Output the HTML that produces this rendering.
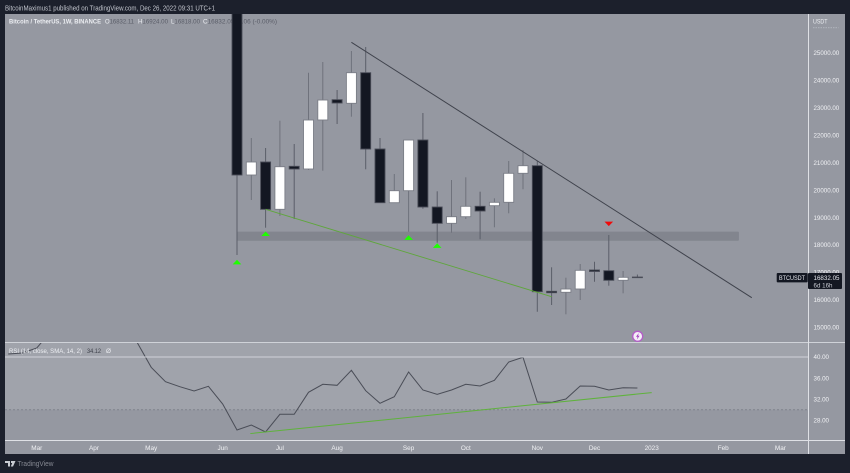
<!DOCTYPE html>
<html>
<head>
<meta charset="utf-8">
<title>BTCUSDT chart</title>
<style>
html,body{margin:0;padding:0;background:#1c202c;width:850px;height:473px;overflow:hidden}
svg{display:block;font-family:"Liberation Sans",sans-serif}
</style>
</head>
<body>
<svg id="chart" width="850" height="473" viewBox="0 0 850 473" xmlns="http://www.w3.org/2000/svg">
  <defs>
    <clipPath id="priceClip"><rect x="5" y="14" width="803" height="328"/></clipPath>
    <clipPath id="rsiClip"><rect x="5" y="343" width="803" height="97"/></clipPath>
  </defs>
  <rect x="0" y="0" width="850" height="473" fill="#1c202c"/>
  <text x="5" y="10.5" font-size="7" fill="#c3c6ce" textLength="210" lengthAdjust="spacingAndGlyphs">BitcoinMaximus1 published on TradingView.com, Dec 26, 2022 09:31 UTC+1</text>
  <rect x="5" y="14" width="840" height="440" fill="#9598a1"/>
  <rect x="5" y="343" width="803" height="66.7" fill="#a0a3ab"/>

  <g font-size="6.6">
    <text x="9" y="23.5" fill="#eceef2" font-weight="bold" textLength="92" lengthAdjust="spacingAndGlyphs">Bitcoin / TetherUS, 1W, BINANCE</text>
    <text x="105" y="23.5" fill="#5a5d68" textLength="29" lengthAdjust="spacingAndGlyphs"><tspan fill="#eceef2">O</tspan>16832.11</text>
    <text x="138" y="23.5" fill="#5a5d68" textLength="30" lengthAdjust="spacingAndGlyphs"><tspan fill="#eceef2">H</tspan>16924.00</text>
    <text x="171" y="23.5" fill="#5a5d68" textLength="29" lengthAdjust="spacingAndGlyphs"><tspan fill="#eceef2">L</tspan>16818.00</text>
    <text x="203" y="23.5" fill="#5a5d68" textLength="74" lengthAdjust="spacingAndGlyphs"><tspan fill="#eceef2">C</tspan>16832.05 -0.06 (-0.00%)</text>
  </g>

  <g id="pricePane" clip-path="url(#priceClip)"></g>
  <g id="rsiPane" clip-path="url(#rsiClip)"></g>
  <g id="axes"></g>

  <text x="9" y="353" font-size="6.4" fill="#eceef2" textLength="73" lengthAdjust="spacingAndGlyphs">RSI (14, close, SMA, 14, 2)</text>
  <text x="87" y="353" font-size="6.4" fill="#3d404a" textLength="14" lengthAdjust="spacingAndGlyphs">34.12</text>
  <text x="106" y="353" font-size="6.4" fill="#eceef2">Ø</text>

  <g>
    <circle cx="637.7" cy="336.3" r="5" fill="#f4eef7" stroke="#b45cc9" stroke-width="1.3"/>
    <path d="M638.8 333 L636 336.8 L637.6 336.8 L636.8 339.6 L639.6 335.8 L638 335.8 Z" fill="#a33fc0"/>
  </g>

  <g>
    <rect x="776.7" y="273" width="31" height="9.4" rx="1" fill="#131722"/>
    <text x="779" y="280" font-size="6.3" fill="#e6e8ee" textLength="26" lengthAdjust="spacingAndGlyphs">BTCUSDT</text>
    <rect x="808" y="273" width="34" height="16" rx="1" fill="#131722"/>
    <text x="813.5" y="280" font-size="6.3" fill="#e6e8ee" textLength="26" lengthAdjust="spacingAndGlyphs">16832.05</text>
    <text x="813.5" y="287.5" font-size="6.3" fill="#c6c9d1" textLength="19" lengthAdjust="spacingAndGlyphs">6d 16h</text>
  </g>

  <g>
    <path d="M5 461 H10 V466.5 H8 V463 H5 Z M11 461 H15.5 L13 466.5 H10.8 L12.2 463 H11 Z" fill="#c9ccd3"/>
    <text x="17.5" y="466" font-size="7" fill="#868993" textLength="36" lengthAdjust="spacingAndGlyphs">TradingView</text>
  </g>
</svg>
<script>
const firstBarOffset = -16;
const opens = [26570,20550,21024,19300,20867,20769,22554,23293,23162,24277,21497,19541,19978,21825,19384,18790,19031,19410,19432,19555,20612,20889,16313,16277,16397,17089,17064,16714,16832.11];
const highs = [26900,21898,21534,22528,21679,24277,24667,23647,25067,25213,21898,20587,21825,22809,19956,20368,20466,19942,19701,21060,21461,21071,17188,16809,17308,17392,18364,17053,16924];
const lows = [17636,19639,18630,19056,18947,20732,20707,22408,22674,20758,19541,19541,18485,19322,18084,18448,18947,18208,18645,19155,20029,15570,15814,15475,15996,16663,16517,16240,16818];
const closes = [20550,21024,19300,20852,20769,22554,23282,23173,24277,21497,19541,19978,21825,19384,18790,19031,19410,19239,19555,20612,20889,16299,16262,16397,17078,17035,16714,16823,16832.05];
const rsiValues = [40.57,40.76,41.7,44.92,46,47,46.5,46,44.5,42.84,38.05,35.32,34.38,33.56,34.45,31.1,26.17,27.12,25.8,29.15,29.15,33.31,34.83,34.64,37.48,33.62,31.23,32.48,37.16,33.75,32.94,33.75,34.83,34.51,35.59,39.05,39.94,31.48,31.42,32.05,34.51,34.45,33.75,34.19,34.12];
const priceTicks = [25000,24000,23000,22000,21000,20000,19000,18000,17000,16000,15000];
const rsiTicks = [40,36,32,28];
const timeLabels = ["Mar","Apr","May","Jun","Jul","Aug","Sep","Oct","Nov","Dec","2023","Feb","Mar"];
const timeBars = [-14,-10,-6,-1,3,7,12,16,21,25,29,34,38];
const resistanceBars = [8,36];
const resistancePrices = [25385,16080];
const supportBars = [2,22];
const supportPrices = [19300,16117];
const rsiTrendBars = [0.93,29];
const rsiTrendValues = [25.5,33.26];
const zoneBars = [0,35.1];
const zonePrices = [18485,18157];
const upArrowBars = [0,2,12,14];
const upArrowPrices = [17380,18410,18270,17980];
const downArrowBars = [26];
const downArrowPrices = [18770];
const rsiThreshold = 30;

const NS = "http://www.w3.org/2000/svg";
const xBar = i => 237 + 14.3 * i;
const yPrice = p => 245 - (p - 18000) * 0.02745;
const yRsi = v => 357 + (40 - v) * 5.28;
const pricePane = document.getElementById("pricePane");
const rsiPane = document.getElementById("rsiPane");
const axes = document.getElementById("axes");

function make(tag, parent, props) {
  const el = document.createElementNS(NS, tag);
  for (const k in props) el.setAttribute(k, props[k]);
  parent.appendChild(el);
  return el;
}

/* support zone */
const zone = make("rect", pricePane, {x: xBar(zoneBars[0]), y: yPrice(zonePrices[0]), width: xBar(zoneBars[1]) - xBar(zoneBars[0]), height: yPrice(zonePrices[1]) - yPrice(zonePrices[0]), rx: 1, fill: "#82858e"});



/* candles */
opens.forEach((o, i) => {
  const c = closes[i];
  const up = c >= o;
  const x = xBar(i);
  const wick = make("line", pricePane, {x1: x, x2: x, y1: yPrice(highs[i]), y2: yPrice(lows[i]), stroke: up ? "#6f727c" : "#5b5e69", "stroke-width": 1});
  
  
  const top = yPrice(Math.max(o, c));
  const h = Math.max(yPrice(Math.min(o, c)) - top, 0.6);
  const body = make("rect", pricePane, {x: x - 5, y: top, width: 10, height: h, fill: up ? "#ffffff" : "#131722", stroke: up ? "#7b7e87" : "#4a4d58", "stroke-width": 0.9});
  
  
});

/* trend lines */
const resistance = make("line", pricePane, {x1: xBar(resistanceBars[0]), y1: yPrice(resistancePrices[0]), x2: xBar(resistanceBars[1]), y2: yPrice(resistancePrices[1]), stroke: "#3f424c", "stroke-width": 1});


const support = make("line", pricePane, {x1: xBar(supportBars[0]), y1: yPrice(supportPrices[0]), x2: xBar(supportBars[1]), y2: yPrice(supportPrices[1]), stroke: "#5fa63c", "stroke-width": 0.9});



/* signal arrows */
upArrowBars.forEach((b, i) => {
  const x = xBar(b), y = yPrice(upArrowPrices[i]);
  const a = make("polygon", pricePane, {points: (x - 4.3) + "," + (y + 2.3) + " " + (x + 4.3) + "," + (y + 2.3) + " " + x + "," + (y - 2.3), fill: "#1eff00"});
  
  
});
downArrowBars.forEach((b, i) => {
  const x = xBar(b), y = yPrice(downArrowPrices[i]);
  const a = make("polygon", pricePane, {points: (x - 4.3) + "," + (y - 2.3) + " " + (x + 4.3) + "," + (y - 2.3) + " " + x + "," + (y + 2.3), fill: "#f00a0a"});
  
  
});

/* RSI pane */
const threshold = make("line", rsiPane, {x1: 5, x2: 808, y1: yRsi(rsiThreshold), y2: yRsi(rsiThreshold), stroke: "#7f828b", "stroke-width": 1, "stroke-dasharray": "2 2"});


const rsiPoints = rsiValues.map((v, i) => xBar(i + firstBarOffset).toFixed(1) + "," + yRsi(v).toFixed(1)).join(" ");
const rsiLine = make("polyline", rsiPane, {points: rsiPoints, fill: "none", stroke: "#4a4d57", "stroke-width": 1});


const rsiTrend = make("line", rsiPane, {x1: xBar(rsiTrendBars[0]), y1: yRsi(rsiTrendValues[0]), x2: xBar(rsiTrendBars[1]), y2: yRsi(rsiTrendValues[1]), stroke: "#5fb23c", "stroke-width": 1});



/* frame lines */
const paneLine = make("line", axes, {x1: 5, x2: 845, y1: 342.5, y2: 342.5, stroke: "#cfd2d8", "stroke-width": 1});


const rsiTopLine = make("line", axes, {x1: 5, x2: 808, y1: yRsi(40), y2: yRsi(40), stroke: "#cfd2d8", "stroke-width": 1});


const timeLine = make("line", axes, {x1: 5, x2: 845, y1: 440.5, y2: 440.5, stroke: "#dfe1e6", "stroke-width": 1});


const scaleLine = make("line", axes, {x1: 808.5, x2: 808.5, y1: 14, y2: 454, stroke: "#dfe1e6", "stroke-width": 1});



/* axis labels */
const unit = make("text", axes, {x: 813, y: 23.5, "font-size": 6.4, fill: "#eceef2", textLength: 14.5, lengthAdjust: "spacingAndGlyphs"});
unit.textContent = "USDT";


const unitRule = make("line", axes, {x1: 813, x2: 838.5, y1: 27.8, y2: 27.8, stroke: "#c3c6ce", "stroke-width": 0.7, "stroke-dasharray": "1.5 1"});


priceTicks.forEach(p => {
  const t = make("text", axes, {x: 813.5, y: yPrice(p) + 2.2, "font-size": 6.3, fill: "#f0f1f4", textLength: 25.7, lengthAdjust: "spacingAndGlyphs"});
  t.textContent = p.toFixed(2);
  
  
});
rsiTicks.forEach(v => {
  const t = make("text", axes, {x: 813.5, y: yRsi(v) + 2.2, "font-size": 6.3, fill: "#f0f1f4", textLength: 15.5, lengthAdjust: "spacingAndGlyphs"});
  t.textContent = v.toFixed(2);
  
  
});
timeLabels.forEach((label, i) => {
  const t = make("text", axes, {x: xBar(timeBars[i]), y: 450, "font-size": 6.4, fill: "#f0f1f4", "text-anchor": "middle"});
  t.textContent = label;
  
  
});
</script>
</body>
</html>
